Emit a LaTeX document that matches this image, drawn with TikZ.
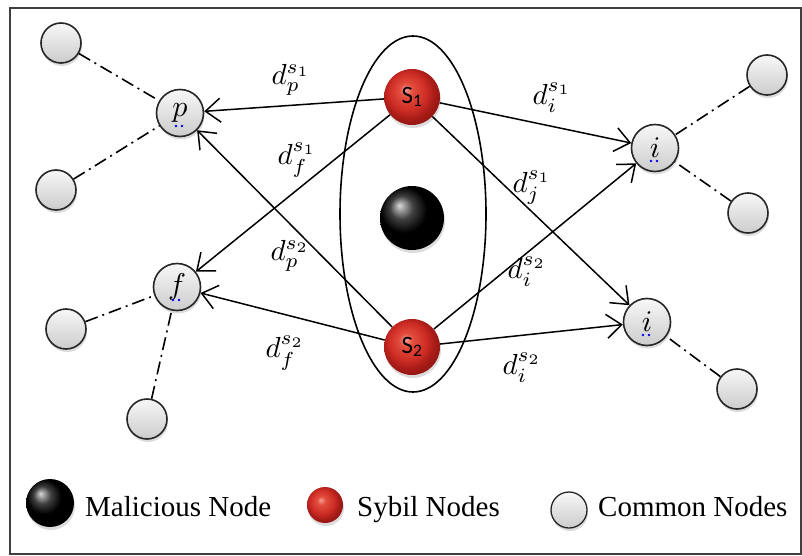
\documentclass[tikz,border=0pt]{standalone}
\usepackage{fontspec}
\setmainfont{Liberation Serif}
\newfontfamily\calib{Carlito}
\usetikzlibrary{arrows.meta,shapes.geometric,shadows}
\newcommand{\distlab}[1]{\scalebox{2.9}{$#1$}}
\pgfdeclareradialshading{redball}{\pgfpoint{-6bp}{7bp}}{%
  rgb(0bp)=(0.97,0.62,0.58);
  rgb(6bp)=(0.89,0.30,0.24);
  rgb(17bp)=(0.80,0.17,0.14);
  rgb(23bp)=(0.66,0.11,0.09);
  rgb(30bp)=(0.55,0.08,0.07);
  rgb(50bp)=(0.55,0.08,0.07)}
\begin{document}
\begin{tikzpicture}[x=1pt,y=-1pt,
  shad/.style={drop shadow={opacity=0.28,shadow xshift=1pt,shadow yshift=-3pt}},
  common/.style={circle,draw=black!85,line width=1.6pt,top color=gray!6,bottom color=gray!40,
    minimum size=40pt,inner sep=0pt,shad},
  target/.style={common,minimum size=47pt},
  sybil/.style={circle,shading=redball,minimum size=56pt,inner sep=0pt,shad,
    font=\calib\fontsize{25}{25}\selectfont},
  malic/.style={circle,ball color=black,minimum size=64pt,inner sep=0pt,shad},
  edge/.style={line width=1.5pt,-{Straight Barb[length=15pt,width=24pt,line width=1.5pt]}},
  link/.style={line width=1.6pt,dash pattern=on 13pt off 5pt on 2pt off 5pt},
  lab/.style={inner sep=0pt},
  legtext/.style={anchor=base west,inner sep=0pt,font=\fontsize{29}{29}\selectfont}]
\useasboundingbox (0,0) rectangle (802,556);
\draw[line width=2pt,black!75] (10,8) rectangle (801,554);

% group ellipse
\node[draw,ellipse,line width=1.6pt,minimum width=146pt,minimum height=356pt,inner sep=0pt] (grp) at (413,214) {};

% named node positions
\coordinate (Ps) at (180,113);
\coordinate (Fs) at (177,287);
\coordinate (IAs) at (655,148);
\coordinate (IBs) at (647,322);

\node[common] (c1) at (61,43) {};
\node[common] (c2) at (56,190) {};
\node[common] (c3) at (767,75) {};
\node[common] (c4) at (748,213) {};
\node[common] (c5) at (66,329) {};
\node[common] (c6) at (147,419) {};
\node[common] (c7) at (737,389) {};

\node[target] (p) at (Ps) {\scalebox{3}{$p$}};
\node[target] (f) at (Fs) {\scalebox{3}{$f$}};
\node[target] (iA) at (IAs) {\scalebox{3}{$i$}};
\node[target] (iB) at (IBs) {\scalebox{3}{$i$}};

\draw[link] (c1) -- (p);
\draw[link] (c2) -- (p);
\draw[link] (c3) -- (iA);
\draw[link] (c4) -- (iA);
\draw[link] (c5) -- (f);
\draw[link] (c6) -- (f);
\draw[link] (c7) -- (iB);

\node[sybil] (S1) at (412,97) {S\textsubscript{1}};
\node[sybil] (S2) at (412,347) {S\textsubscript{2}};
\node[malic] (M) at (412,218) {};

% arrows
\draw[edge] (S1) -- (p);
\draw[edge] (S1) -- (f);
\draw[edge] (S1) -- (iA);
\draw[edge] (S1) -- (iB);
\draw[edge] (S2) -- (p);
\draw[edge] (S2) -- (f);
\draw[edge] (S2) -- (iA);
\draw[edge] (S2) -- (iB);

% blue spell-check dots
\foreach \n in {p,f,iA,iB}{
  \fill[blue] ([xshift=-4pt,yshift=-13pt]\n.center) circle (1.3pt);
  \fill[blue] ([xshift=2pt,yshift=-13pt]\n.center) circle (1.3pt);
}

% labels
\node[lab] (l1) at (291,80) {\distlab{d_p^{s_1}}};
\node[lab] (l2) at (297,160) {\distlab{d_f^{s_1}}};
\node[lab] (l3) at (290,256) {\distlab{d_p^{s_2}}};
\node[lab] (l4) at (285,353) {\distlab{d_f^{s_2}}};
\node[lab] (l5) at (552,98) {\distlab{d_i^{s_1}}};
\node[lab] (l6) at (532,188) {\distlab{d_j^{s_1}}};
\node[lab] (l7) at (527,272) {\distlab{d_i^{s_2}}};
\node[lab] (l8) at (522,368) {\distlab{d_i^{s_2}}};

% legend
\node[malic,minimum size=48pt] (lmal) at (50,503) {};
\node[legtext] (tmal) at (85,516) {Malicious Node};
\node[sybil,minimum size=36pt] (lsyb) at (325,505) {};
\node[legtext] (tsyb) at (357,516) {Sybil Nodes};
\node[common,minimum size=36pt,line width=1.3pt] (lcom) at (569,510) {};
\node[legtext] (tcom) at (598,516) {Common Nodes};
\end{tikzpicture}
\end{document}
